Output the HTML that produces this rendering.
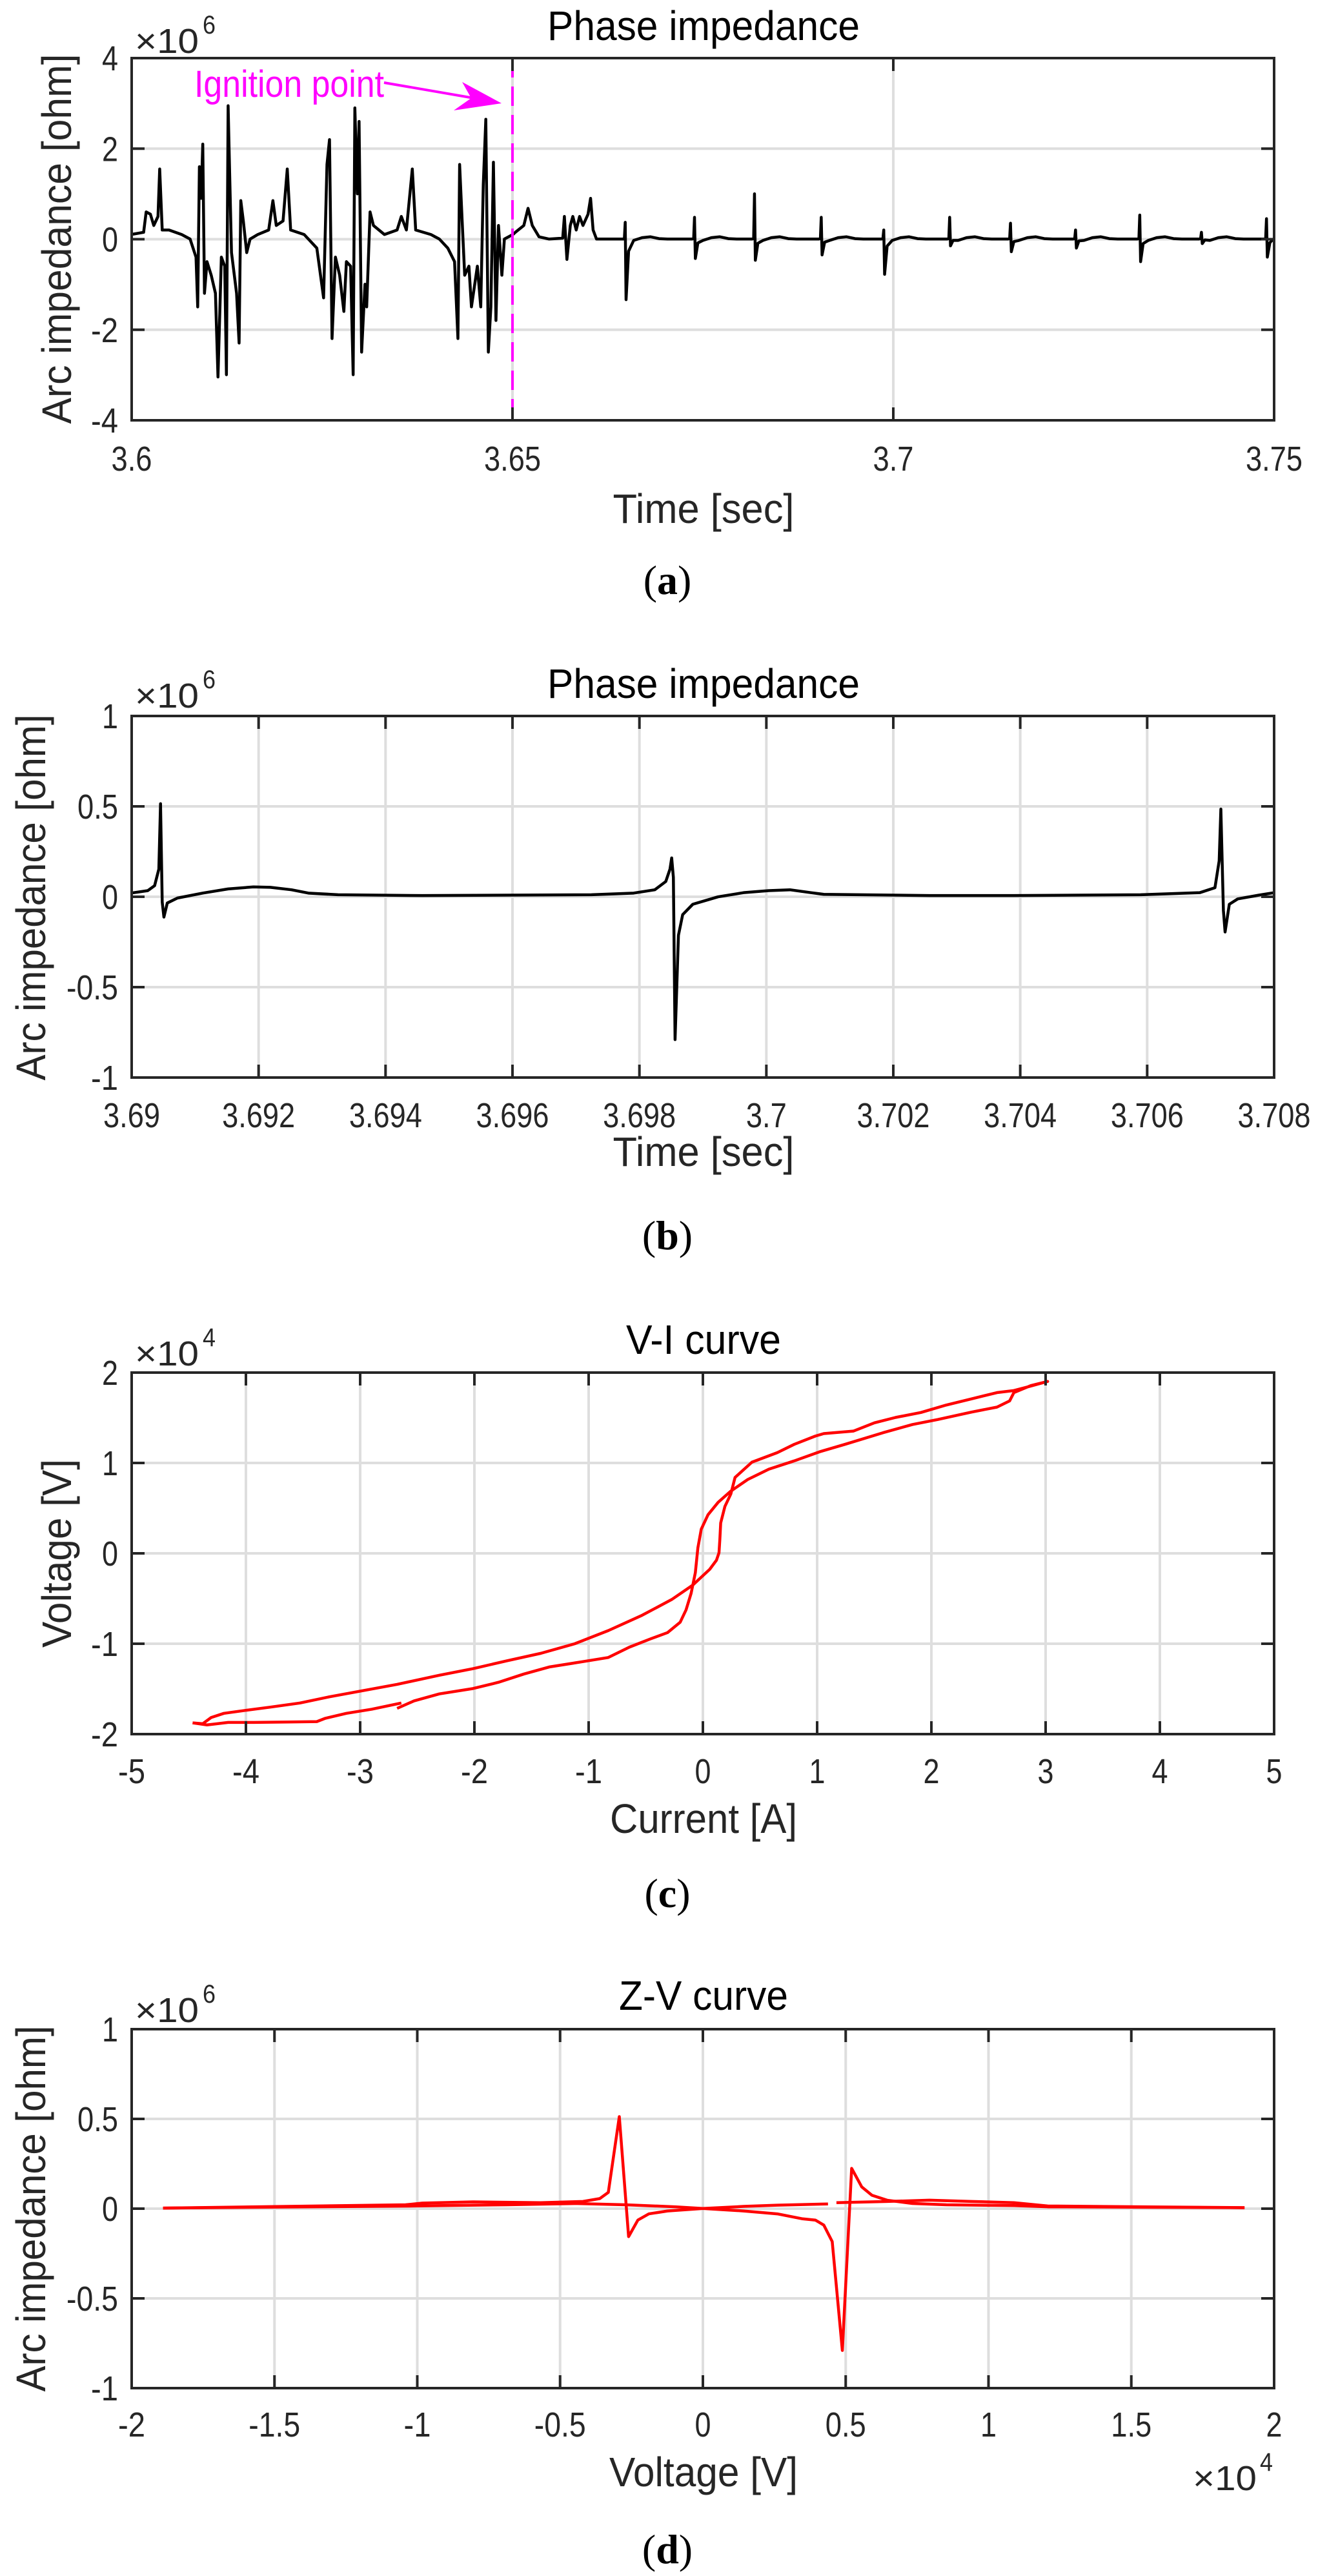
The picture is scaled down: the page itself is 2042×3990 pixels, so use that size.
<!DOCTYPE html>
<html><head><meta charset="utf-8"><style>
html,body{margin:0;padding:0;background:#fff}
svg{display:block}
text{font-family:"Liberation Sans",sans-serif;fill:#262626}
.t{font-size:54px}
.ti{font-size:64px;fill:#000}
.xl{font-size:64px}
.yl{font-size:64px}
.cap{font-family:"Liberation Serif",serif;font-size:64px;fill:#000}
.g{stroke:#dedede;stroke-width:4;fill:none}
.ax{stroke:#262626;stroke-width:4;fill:none}
.d{fill:none;stroke-width:4.5;stroke-linejoin:round;vector-effect:non-scaling-stroke}
</style></head><body>
<svg id="s" width="2042" height="3990" viewBox="0 0 2042 3990" xmlns="http://www.w3.org/2000/svg"></svg>
<script>
var S=document.getElementById('s'),h='';
var L=204,R=1974;
function panel(top,bot,xt,xlab,yt,ylab,xg,yg,tick){
  xt.forEach(function(t){var x=t[0];if(xg&&x>L+2&&x<R-2)h+='<line class="g" x1="'+x+'" y1="'+top+'" x2="'+x+'" y2="'+bot+'"/>';});
  yt.forEach(function(t){var y=t[0];if(yg&&y>top+2&&y<bot-2)h+='<line class="g" x1="'+L+'" y1="'+y+'" x2="'+R+'" y2="'+y+'"/>';});
}
function tl(s){var n=0;for(var i=0;i<s.length;i++){n+=(s[i]=='.'?13:(s[i]=='-'?17:25));}return n;}
function frame(top,bot,xt,yt,tb){
  h+='<rect class="ax" x="'+L+'" y="'+top+'" width="'+(R-L)+'" height="'+(bot-top)+'"/>';
  xt.forEach(function(t){var x=t[0];h+='<line class="ax" x1="'+x+'" y1="'+bot+'" x2="'+x+'" y2="'+(bot-20)+'"/><line class="ax" x1="'+x+'" y1="'+top+'" x2="'+x+'" y2="'+(top+20)+'"/>';
    h+='<text class="t" x="'+x+'" y="'+tb+'" text-anchor="middle" textLength="'+tl(t[1])+'" lengthAdjust="spacingAndGlyphs">'+t[1]+'</text>';});
  yt.forEach(function(t){var y=t[0];h+='<line class="ax" x1="'+L+'" y1="'+y+'" x2="'+(L+20)+'" y2="'+y+'"/><line class="ax" x1="'+R+'" y1="'+y+'" x2="'+(R-20)+'" y2="'+y+'"/>';
    h+='<text class="t" x="183" y="'+(y+19)+'" text-anchor="end" textLength="'+tl(t[1])+'" lengthAdjust="spacingAndGlyphs">'+t[1]+'</text>';});
}
function lin(a,b,n,fa,fb,lab){var r=[];for(var i=0;i<n;i++){r.push([a+(b-a)*i/(n-1),lab[i]]);}return r;}
function path(pts,tr,col){var d='M'+pts.map(function(p){return p[0]+','+p[1]}).join('L');
  h+='<g transform="'+tr+'"><path class="d" stroke="'+col+'" d="'+d+'"/></g>';}
function P(a){var r=[];for(var i=0;i<a.length;i+=2)r.push([a[i],a[i+1]]);return r;}
function ex(x,y,e){h+='<text x="209" y="'+y+'" style="font-size:54px" textLength="99" lengthAdjust="spacingAndGlyphs">×10</text><text x="'+(x)+'" y="'+(y-30)+'" style="font-size:40px" textLength="20" lengthAdjust="spacingAndGlyphs">'+e+'</text>';}

// ===== Panel a =====
var ta=90,ba=651;
var xa=lin(L,R,4,0,0,['3.6','3.65','3.7','3.75']);
var ya=lin(ta,ba,5,0,0,['4','2','0','-2','-4']);
panel(ta,ba,xa,0,ya,0,true,true);
var A=[155,0.1,170,0.15,173,0.6,178,0.55,182,0.3,187,0.5,189,1.55,192,0.2,200,0.2,215,0.1,225,0,232,-0.4,234,-1.5,236,1.6,238,0.9,240,2.1,242,-1.2,245,-0.5,250,-0.8,255,-1.2,258,-3.05,262,-0.4,266,-0.6,268,-3.0,270,2.95,272,1.3,274,-0.3,280,-1.2,283,-2.3,285,0.85,288,0.4,292,-0.3,296,0.0,305,0.1,318,0.2,323,0.85,327,0.3,335,0.4,340,1.55,344,0.2,360,0.1,375,-0.2,383,-1.3,387,1.65,390,2.2,393,-2.2,397,-0.4,402,-0.8,407,-1.6,410,-0.5,415,-0.6,418,-3.0,420,2.9,423,1.0,425,2.6,428,-2.5,432,-1.0,434,-1.5,438,0.6,442,0.3,455,0.1,470,0.2,475,0.5,481,0.2,488,1.55,492,0.2,510,0.1,520,0.0,530,-0.2,538,-0.5,542,-2.2,544,1.65,547,0.4,550,-0.8,555,-0.6,558,-1.5,565,-0.6,569,-1.5,572,1.2,575,2.65,578,-2.5,581,-1.5,584,1.7,587,-1.8,590,0.3,594,-0.8,597,0.0,607,0.1,
610,0.15,620,0.3,625,0.68,630,0.3,638,0.05,650,0.0,666,0.02,668,0.5,671,-0.45,675,0.3,678,0.5,682,0.2,686,0.5,690,0.3,696,0.55,699,0.9,702,0.2,706,0.0,738,0.0];
var spk=[[740,0.37,-1.34],[822,0.48,-0.43],[893,1.0,-0.47],[972,0.48,-0.35],[1046,0.2,-0.78],[1124,0.48,-0.15],[1196,0.35,-0.28],[1273,0.2,-0.2],[1349,0.53,-0.5],[1422,0.15,-0.1],[1499,0.45,-0.4]];
spk.forEach(function(s,i){var x=s[0];A.push(x-1,0.01,x,s[1],x+1,s[2],x+4,s[2]*0.2,x+10,-0.03,x+20,0.03,x+30,0.05,x+40,0.01,x+50,0.0);
  var nx=(i<spk.length-1)?spk[i+1][0]:1510;A.push(nx-3,0.0);});
var pa=[];for(var i=0;i<A.length;i+=2){if(A[i]>1508)continue;pa.push([A[i],(608-A[i+1]*115).toFixed(1)]);}
path(pa,'scale(1.309,0.609)','#000');
h+='<line x1="794" y1="'+ta+'" x2="794" y2="'+ba+'" stroke="#ff00ff" stroke-width="4" stroke-dasharray="30,14"/>';
h+='<text x="301" y="150" style="font-size:58px;fill:#ff00ff" textLength="294" lengthAdjust="spacingAndGlyphs">Ignition point</text>';
h+='<line x1="595" y1="128" x2="740" y2="153" stroke="#ff00ff" stroke-width="4"/>';
h+='<polygon points="777,160 716,127 730,152 703,171" fill="#ff00ff"/>';
frame(ta,ba,xa,ya,729);
h+='<text class="ti" x="1090" y="62" text-anchor="middle" textLength="484" lengthAdjust="spacingAndGlyphs">Phase impedance</text>';
ex(314,82,'6');
h+='<text class="xl" x="1090" y="810" text-anchor="middle" textLength="281" lengthAdjust="spacingAndGlyphs">Time [sec]</text>';
h+='<text class="yl" transform="translate(110,370) rotate(-90)" text-anchor="middle" textLength="573" lengthAdjust="spacingAndGlyphs">Arc impedance [ohm]</text>';
h+='<text class="cap" x="1034" y="920" text-anchor="middle">(<tspan font-weight="bold">a</tspan>)</text>';

// ===== Panel b =====
var tb=1109,bb=1669;
var xb=lin(L,R,10,0,0,['3.69','3.692','3.694','3.696','3.698','3.7','3.702','3.704','3.706','3.708']);
var yb=lin(tb,bb,5,0,0,['1','0.5','0','-0.5','-1']);
panel(tb,bb,xb,0,yb,0,true,true);
path(P([155,598,175,592,183,580,188,540,190,382,192,620,194,656,198,622,210,610,240,598,270,588,300,583,320,584,345,590,365,598,400,602,500,604,700,602,750,598,775,590,788,570,793,540,795,513,797,560,799,952,803,700,808,650,820,625,850,607,880,597,910,592,935,590,960,597,975,601,1100,604,1200,604,1350,602,1420,597,1438,585,1443,520,1445,395,1448,640,1450,692,1455,625,1465,612,1490,603,1508,597]),'translate(0,1000) scale(1.309,0.641)','#000');
frame(tb,bb,xb,yb,1746);
h+='<text class="ti" x="1090" y="1081" text-anchor="middle" textLength="484" lengthAdjust="spacingAndGlyphs">Phase impedance</text>';
ex(314,1096,'6');
h+='<text class="xl" x="1090" y="1806" text-anchor="middle" textLength="281" lengthAdjust="spacingAndGlyphs">Time [sec]</text>';
h+='<text class="yl" transform="translate(70,1390) rotate(-90)" text-anchor="middle" textLength="567" lengthAdjust="spacingAndGlyphs">Arc impedance [ohm]</text>';
h+='<text class="cap" x="1034" y="1935" text-anchor="middle">(<tspan font-weight="bold">b</tspan>)</text>';

// ===== Panel c =====
var tc=2126,bc=2686;
var xc=lin(L,R,11,0,0,['-5','-4','-3','-2','-1','0','1','2','3','4','5']);
var yc=lin(tc,bc,5,0,0,['2','1','0','-1','-2']);
panel(tc,bc,xc,0,yc,0,true,true);
var trc='translate(0,2000) scale(1.309,0.641)';
path(P([228,1043,240,1045,250,1030,265,1020,290,1013,320,1005,355,995,390,980,430,965,470,950,520,928,560,912,600,893,640,875,680,852,720,820,760,783,795,745,820,710,840,672,848,650,851,632,852,600,853,560,858,520,865,490,870,450,890,413,920,390,940,370,965,350,975,344,1010,338,1035,318,1060,305,1090,293,1120,275,1150,260,1180,245,1200,240,1215,232,1240,218,1220,228,1200,245,1195,265,1180,280,1150,292,1110,310,1080,322,1045,342,1000,370,970,388,940,410,910,430,885,455,865,483,850,510,838,540,830,575,826,620,823,680,818,730,812,770,805,800,790,825,770,840,745,860,720,885,690,895,650,908,620,925,590,945,560,960,520,973,490,990,470,1008]),trc,'#ff0000');
path(P([475,995,440,1010,410,1020,385,1032,375,1040,340,1041,300,1042,270,1042,245,1048,228,1043]),trc,'#ff0000');
frame(tc,bc,xc,yc,2762);
h+='<text class="ti" x="1090" y="2097" text-anchor="middle" textLength="240" lengthAdjust="spacingAndGlyphs">V-I curve</text>';
ex(314,2115,'4');
h+='<text class="xl" x="1090" y="2839" text-anchor="middle" textLength="290" lengthAdjust="spacingAndGlyphs">Current [A]</text>';
h+='<text class="yl" transform="translate(110,2406) rotate(-90)" text-anchor="middle" textLength="292" lengthAdjust="spacingAndGlyphs">Voltage [V]</text>';
h+='<text class="cap" x="1034" y="2954" text-anchor="middle">(<tspan font-weight="bold">c</tspan>)</text>';

// ===== Panel d =====
var td=3143,bd=3699;
var xd=lin(L,R,9,0,0,['-2','-1.5','-1','-0.5','0','0.5','1','1.5','2']);
var yd=lin(td,bd,5,0,0,['1','0.5','0','-0.5','-1']);
panel(td,bd,xd,0,yd,0,true,true);
var trd='translate(0,2990) scale(1.309,0.641)';
path(P([193,671,480,663,500,659,560,656,640,658,690,655,710,648,720,633,733,450,744,740,755,700,768,685,790,678,832,672,880,678,920,685,950,697,965,700,975,712,985,752,997,1015,1008,575,1020,620,1032,640,1050,652,1080,660,1120,663,1200,665,1240,668,1473,670]),trd,'#ff0000');
path(P([193,671,490,666,600,663,680,660,740,663,800,668,832,672,880,667,920,664,980,661]),trd,'#ff0000');
path(P([990,658,1050,655,1100,652,1150,655,1200,658,1240,666,1473,670]),trd,'#ff0000');
frame(td,bd,xd,yd,3774);
h+='<text class="ti" x="1090" y="3113" text-anchor="middle" textLength="262" lengthAdjust="spacingAndGlyphs">Z-V curve</text>';
ex(314,3132,'6');
h+='<text x="1848" y="3857" style="font-size:54px" textLength="99" lengthAdjust="spacingAndGlyphs">×10</text><text x="1952" y="3827" style="font-size:40px" textLength="20" lengthAdjust="spacingAndGlyphs">4</text>';
h+='<text class="xl" x="1090" y="3851" text-anchor="middle" textLength="292" lengthAdjust="spacingAndGlyphs">Voltage [V]</text>';
h+='<text class="yl" transform="translate(70,3421) rotate(-90)" text-anchor="middle" textLength="567" lengthAdjust="spacingAndGlyphs">Arc impedance [ohm]</text>';
h+='<text class="cap" x="1034" y="3970" text-anchor="middle">(<tspan font-weight="bold">d</tspan>)</text>';

S.innerHTML=h;
</script>
</body></html>
